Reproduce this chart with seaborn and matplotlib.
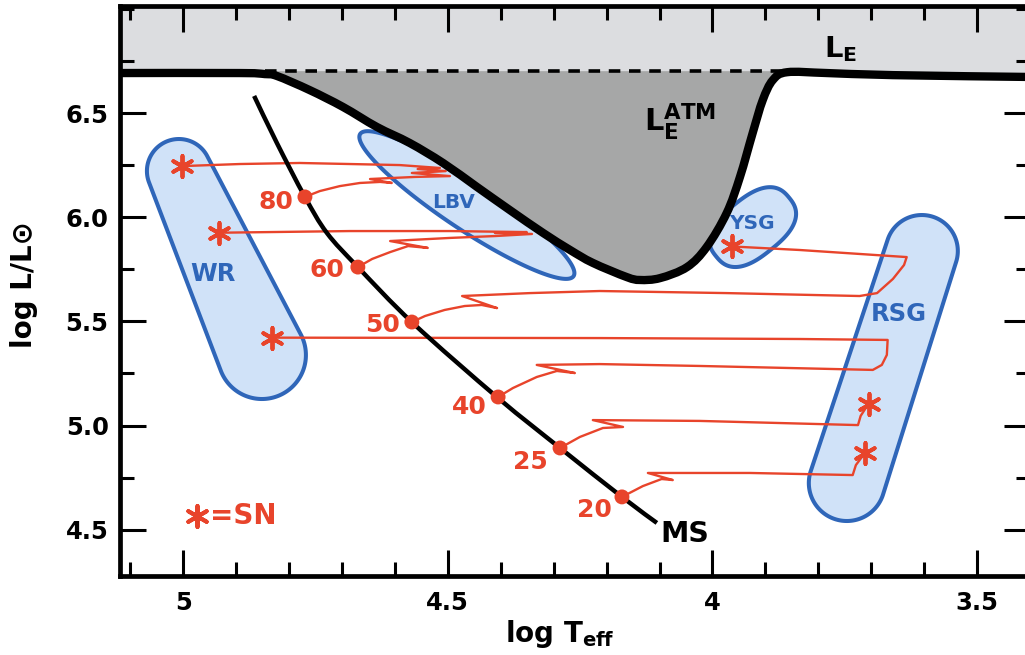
import numpy as np
import matplotlib
matplotlib.use("Agg")
import matplotlib.pyplot as plt
import seaborn as sns
from matplotlib.path import Path
from matplotlib.patches import PathPatch
from matplotlib.ticker import FixedLocator, MultipleLocator

sns.set_theme(style="ticks")
plt.rcParams['font.family'] = ['DejaVu Sans']
plt.rcParams['font.weight'] = 'bold'
plt.rcParams['mathtext.fontset'] = 'dejavusans'
for key in ['text.color', 'axes.labelcolor', 'xtick.color', 'ytick.color',
            'axes.edgecolor']:
    plt.rcParams[key] = 'black'

# ---------------- data (log Teff, log L/Lsun) ----------------
xticks = [5.0, 4.5, 4.0, 3.5]
xticklabels = ["5", "4.5", "4", "3.5"]
yticks = [4.5, 5.0, 5.5, 6.0, 6.5]
yticklabels = ["4.5", "5.0", "5.5", "6.0", "6.5"]

# Eddington limit curve
edd_logT = [5.125, 4.893, 4.846, 4.823, 4.761, 4.698, 4.634, 4.572, 4.509, 4.445, 4.383,
            4.320, 4.269, 4.226, 4.162, 4.137, 4.099, 4.048, 4.011, 3.973, 3.948, 3.924,
            3.905, 3.886, 3.859, 3.784, 3.659, 3.395]
edd_logL = [6.693, 6.693, 6.688, 6.679, 6.611, 6.530, 6.434, 6.357, 6.261, 6.146, 6.035,
            5.925, 5.843, 5.781, 5.713, 5.699, 5.708, 5.761, 5.857, 6.021, 6.194, 6.405,
            6.563, 6.659, 6.697, 6.693, 6.683, 6.674]
edd_level = 6.702
atm_start, atm_end = 2, 24   # indices of the curve bounding the atmospheric region

# main sequence
ms_logT = [4.866, 4.823, 4.770, 4.7285, 4.670, 4.566, 4.405, 4.288, 4.171, 4.105]
ms_logL = [6.583, 6.357, 6.098, 5.925, 5.761, 5.492, 5.132, 4.892, 4.657, 4.532]

# initial masses on the MS
masses = ["80", "60", "50", "40", "25", "20"]
zams_logT = [4.770, 4.670, 4.568, 4.405, 4.288, 4.171]
zams_logL = [6.098, 5.761, 5.497, 5.137, 4.892, 4.657]

# evolutionary tracks
track80_logT = [4.770, 4.742, 4.704, 4.666, 4.628, 4.606, 4.647, 4.562, 4.496, 4.568, 4.504,
                4.557, 4.515, 4.591, 4.780, 4.893, 5.002]
track80_logL = [6.098, 6.126, 6.150, 6.165, 6.170, 6.165, 6.184, 6.194, 6.198, 6.213, 6.222,
                6.232, 6.237, 6.251, 6.261, 6.256, 6.246]
track60_logT = [4.670, 4.643, 4.609, 4.575, 4.538, 4.609, 4.496, 4.411, 4.341, 4.411, 4.351,
                4.496, 4.685, 4.932]
track60_logL = [5.761, 5.800, 5.833, 5.862, 5.853, 5.886, 5.901, 5.910, 5.920, 5.925, 5.929,
                5.934, 5.934, 5.926]
track50_logT = [4.568, 4.543, 4.506, 4.468, 4.436, 4.407, 4.473, 4.345, 4.213, 3.973, 3.722,
                3.689, 3.659, 3.638, 3.633, 3.722, 3.835, 3.963]
track50_logL = [5.497, 5.526, 5.555, 5.574, 5.579, 5.564, 5.622, 5.636, 5.646, 5.636, 5.622,
                5.636, 5.704, 5.771, 5.809, 5.824, 5.843, 5.860]
track40_logT = [4.405, 4.377, 4.332, 4.294, 4.260, 4.332, 4.213, 4.024, 3.697, 3.680, 3.6705,
                3.669, 3.835, 4.213, 4.832]
track40_logL = [5.137, 5.180, 5.233, 5.262, 5.252, 5.291, 5.295, 5.286, 5.267, 5.291, 5.339,
                5.411, 5.4155, 5.420, 5.422]
track25_logT = [4.288, 4.2505, 4.207, 4.169, 4.226, 4.024, 3.725, 3.720, 3.705]
track25_logL = [4.892, 4.945, 4.988, 4.993, 5.026, 5.022, 5.002, 5.046, 5.105]
track20_logT = [4.171, 4.1315, 4.096, 4.075, 4.122, 3.929, 3.735, 3.729, 3.712]
track20_logL = [4.657, 4.709, 4.743, 4.738, 4.772, 4.772, 4.762, 4.810, 4.868]

# supernova end points
sn_logT = [5.002, 4.932, 4.832, 3.963, 3.705, 3.712]
sn_logL = [6.246, 5.926, 5.422, 5.860, 5.105, 4.868]

# regions: WR and RSG as rounded bands between two end points
wr_ends_logT = [5.0081, 4.8513]
wr_ends_logL = [6.2224, 5.3386]
rsg_ends_logT = [3.6044, 3.7461]
rsg_ends_logL = [5.8381, 4.7238]
lbv_center = (4.464, 6.059)
lbv_axis_a = (-0.2016, -0.3415)
lbv_axis_b = (0.0251, -0.0961)
ysg_center = (3.924, 5.953)
ysg_axis_a = (-0.0690, 0.1410)
ysg_axis_b = (-0.0345, -0.1080)

region_names = ["WR", "LBV", "YSG", "RSG"]
region_label_logT = [4.944, 4.489, 3.926, 3.648]
region_label_logL = [5.728, 6.073, 5.968, 5.536]

# ---------------- styles ----------------
RED = '#e8442b'
BLUE = '#2f66b9'
BLUEFILL = '#d0e2f8'
LIGHTGRAY = '#dcdde0'
DARKGRAY = '#a6a7a7'
WR_RADII_PX = (32, 44)
RSG_RADII_PX = (36, 38)


def smooth_path(xs, ys, closed=False):
    P = np.column_stack([xs, ys]).astype(float)
    n = len(P)
    if closed:
        ext = np.vstack([P[-1], P, P[0], P[1]])
        segs = n
    else:
        ext = np.vstack([P[0], P, P[-1]])
        segs = n - 1
    verts = [P[0]]
    codes = [Path.MOVETO]
    for i in range(segs):
        p0, p1, p2, p3 = ext[i], ext[i + 1], ext[i + 2], ext[i + 3]
        verts += [p1 + (p2 - p0) / 6.0, p2 - (p3 - p1) / 6.0, p2]
        codes += [Path.CURVE4] * 3
    if closed:
        verts.append(P[0])
        codes.append(Path.CLOSEPOLY)
    return Path(np.array(verts), codes)


def superellipse(center, a, b, n=2.0, num=240):
    t = np.linspace(0, 2 * np.pi, num, endpoint=False)
    c, s = np.cos(t), np.sin(t)
    e = 2.0 / n
    cc = np.sign(c) * np.abs(c) ** e
    ss = np.sign(s) * np.abs(s) ** e
    x = center[0] + a[0] * cc + b[0] * ss
    y = center[1] + a[1] * cc + b[1] * ss
    pts = np.column_stack([x, y])
    return Path(np.vstack([pts, pts[:1]]), closed=True)


def hull(points):
    pts = sorted(map(tuple, points))

    def cross(o, a, b):
        return (a[0] - o[0]) * (b[1] - o[1]) - (a[1] - o[1]) * (b[0] - o[0])
    lower, upper = [], []
    for p in pts:
        while len(lower) >= 2 and cross(lower[-2], lower[-1], p) <= 0:
            lower.pop()
        lower.append(p)
    for p in reversed(pts):
        while len(upper) >= 2 and cross(upper[-2], upper[-1], p) <= 0:
            upper.pop()
        upper.append(p)
    return np.array(lower[:-1] + upper[:-1])


def band_path(ax, xs, ys, radii):
    """Rounded band (tapered capsule) built in screen space, returned in data coords."""
    tr = ax.transData
    ends = tr.transform(np.column_stack([xs, ys]))
    t = np.linspace(0, 2 * np.pi, 180, endpoint=False)
    pts = []
    for (cx, cy), r in zip(ends, radii):
        pts.append(np.column_stack([cx + r * np.cos(t), cy + r * np.sin(t)]))
    h = hull(np.vstack(pts))
    d = tr.inverted().transform(h)
    return Path(np.vstack([d, d[:1]]), closed=True)


fig = plt.figure(figsize=(10.25, 6.55), dpi=100)
ax = fig.add_axes([119.7 / 1025, (655 - 575.5) / 655, (1030 - 119.7) / 1025, (575.5 - 5.8) / 655])
ax.set_xlim(5.12, 3.40)
ax.set_ylim(4.2795, 7.016)

# light gray band above the Eddington limit
ax.axhspan(6.69, 7.1, color=LIGHTGRAY, zorder=0, lw=0)

# regions
ax.add_patch(PathPatch(band_path(ax, wr_ends_logT, wr_ends_logL, WR_RADII_PX),
                       facecolor=BLUEFILL, edgecolor=BLUE, lw=2.9, zorder=1))
ax.add_patch(PathPatch(band_path(ax, rsg_ends_logT, rsg_ends_logL, RSG_RADII_PX),
                       facecolor=BLUEFILL, edgecolor=BLUE, lw=2.9, zorder=1))
lbv_path = superellipse(lbv_center, lbv_axis_a, lbv_axis_b, n=2.0)
ax.add_patch(PathPatch(lbv_path, facecolor=BLUEFILL, edgecolor=BLUE, lw=2.9, zorder=1))
ysg_path = superellipse(ysg_center, ysg_axis_a, ysg_axis_b, n=2.6)
ax.add_patch(PathPatch(ysg_path, facecolor=BLUEFILL, edgecolor=BLUE, lw=2.9, zorder=1))

# atmospheric Eddington region (dark gray)
seg = smooth_path(edd_logT[atm_start:atm_end + 1], edd_logL[atm_start:atm_end + 1])
verts = list(seg.vertices) + [(edd_logT[atm_end], edd_level), (edd_logT[atm_start], edd_level),
                              seg.vertices[0]]
codes = list(seg.codes) + [Path.LINETO, Path.LINETO, Path.CLOSEPOLY]
ax.add_patch(PathPatch(Path(verts, codes), facecolor=DARKGRAY, edgecolor='none', zorder=2))
ax.plot([edd_logT[atm_start], edd_logT[atm_end]], [edd_level, edd_level], color='black',
        lw=2.6, dashes=(3.2, 2.4), zorder=2.5)

# tracks
tracks = [(track80_logT, track80_logL), (track60_logT, track60_logL),
          (track50_logT, track50_logL), (track40_logT, track40_logL),
          (track25_logT, track25_logL), (track20_logT, track20_logL)]
for tx, ty in tracks:
    sns.lineplot(x=tx, y=ty, sort=False, estimator=None, color=RED, lw=1.7, ax=ax,
                 zorder=3)

# Eddington curve and main sequence
ax.add_patch(PathPatch(smooth_path(edd_logT, edd_logL), facecolor='none', edgecolor='black',
                       lw=6, zorder=4, capstyle='butt'))
ax.add_patch(PathPatch(smooth_path(ms_logT, ms_logL), facecolor='none', edgecolor='black',
                       lw=3.2, zorder=4, capstyle='butt'))

# ZAMS dots
sns.scatterplot(x=zams_logT, y=zams_logL, color=RED, s=115, edgecolor='none', ax=ax,
                zorder=5)
label_dx = [-8.6, -9.4, -8.6, -7.9, -8.6, -7.2]
label_dy = [-3.6, -2.2, -2.2, -7.2, -10.0, -9.4]
for m, x, y, dx, dy in zip(masses, zams_logT, zams_logL, label_dx, label_dy):
    ax.annotate(m, (x, y), xytext=(dx, dy), textcoords='offset points', ha='right',
                va='center', color=RED, fontsize=18, fontweight='bold', zorder=6)

# SN markers
sns.scatterplot(x=sn_logT, y=sn_logL, marker=(6, 2, 0), s=230, color=RED, linewidth=2.8,
                ax=ax, zorder=6)

# legend-like SN marker
sns.scatterplot(x=[4.974], y=[4.565], marker=(6, 2, 0), s=230, color=RED, linewidth=2.9,
                ax=ax, zorder=6)
ax.text(4.950, 4.565, "=SN", color=RED, fontsize=20, fontweight='bold', ha='left',
        va='center')

# labels
for name, x, y in zip(region_names, region_label_logT, region_label_logL):
    fs = 17.5 if name in ("WR", "RSG") else 14.5
    ax.text(x, y, name, color=BLUE, fontsize=fs, fontweight='bold', ha='center',
            va='center', zorder=6)
ax.text(3.757, 6.808, r"L$_\mathbf{E}$", fontsize=21, fontweight='bold', ha='center',
        va='center', zorder=6)
ax.text(4.0616, 6.4625, r"L$_\mathbf{E}^\mathbf{ATM}$", fontsize=22, fontweight='bold',
        ha='center', va='center', zorder=6)
ax.text(4.053, 4.481, "MS", fontsize=20.5, fontweight='bold', ha='center', va='center',
        zorder=6)

# axes styling
ax.xaxis.set_major_locator(FixedLocator(xticks))
ax.set_xticklabels(xticklabels)
ax.yaxis.set_major_locator(FixedLocator(yticks))
ax.set_yticklabels(yticklabels)
ax.xaxis.set_minor_locator(MultipleLocator(0.1))
ax.yaxis.set_minor_locator(MultipleLocator(0.25))
ax.tick_params(which='both', direction='in', top=True, right=True, width=2.2,
               color='black', labelcolor='black', zorder=7)
ax.tick_params(which='major', length=19)
ax.tick_params(which='minor', length=10)
ax.tick_params(axis='x', which='major', pad=11.5, labelsize=17.5)
ax.tick_params(axis='y', which='major', pad=8, labelsize=17.5)
for lab in ax.get_xticklabels() + ax.get_yticklabels():
    lab.set_fontweight('bold')
for sp in ax.spines.values():
    sp.set_linewidth(3.4)
    sp.set_color('black')
    sp.set_zorder(8)

ax.set_xlabel(r"log T$_\mathbf{eff}$", fontsize=20, fontweight='bold', color='black')
ax.set_ylabel("log L/L\u2299", fontsize=20, fontweight='bold', color='black')
ax.xaxis.set_label_coords(0.4837, -0.0745)
ax.yaxis.set_label_coords(-0.09, 0.51)

fig.savefig("out.png", dpi=100)
